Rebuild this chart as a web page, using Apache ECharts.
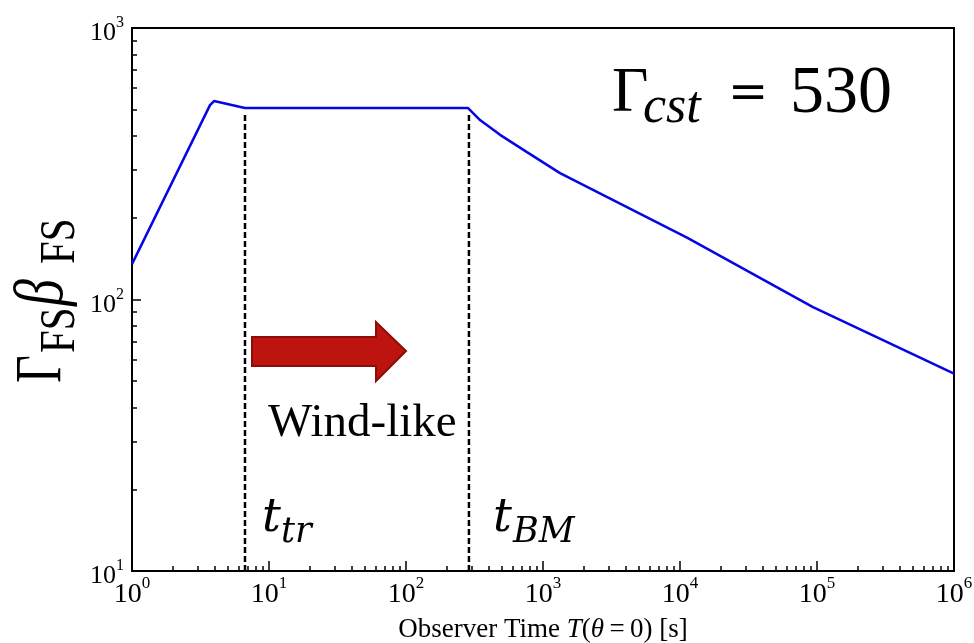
<!DOCTYPE html>
<html>
<head>
<meta charset="utf-8">
<script src="https://cdn.jsdelivr.net/npm/echarts@6/dist/echarts.min.js"></script>
<style>
  html, body { margin: 0; padding: 0; background: #fff; }
  #main { width: 974px; height: 643px; }
</style>
</head>
<body>
<div id="main"></div>
<script>
// observer time [s] and Gamma*beta of the forward shock
const obsTime = [1, 3.71, 3.97, 6.68, 284, 347, 486, 764, 1331, 4100, 11250, 93500, 1e6];
const gammaBeta = [135, 520, 538, 507, 507, 458, 404, 349, 292, 219, 169, 93.8, 53.3];

// t_tr and t_BM (dashed markers) and where the dashes stop at the top
const markerTimes = [6.68, 288];
const markerBottom = 10;
const markerTop = 490;

// major ticks (decades)
const xMajor = [1, 10, 100, 1000, 10000, 100000, 1000000];
const yMajor = [10, 100, 1000];

// minor ticks 2..9 inside every decade
function minorTicks(from, to) {
    const out = [];
    for (let d = from; d < to; d *= 10) {
        for (let k = 2; k <= 9; k++) out.push(k * d);
    }
    return out;
}
const xMinor = minorTicks(1, 1e6);
const yMinor = minorTicks(10, 1000);

const serif = '"Liberation Serif", "DejaVu Serif", serif';
const mathFont = '"DejaVu Serif", serif';

function powLabel(v) {
    return '{b|10}{s|' + Math.round(Math.log10(v)) + '}';
}

const chart = echarts.init(document.getElementById('main'));

const option = {
    animation: false,
    backgroundColor: '#fff',
    grid: {
        left: 132, right: 20, top: 28, bottom: 72,
        show: true, borderColor: '#000', borderWidth: 2,
        containLabel: false,
        outerBoundsMode: 'none'
    },
    xAxis: [{
        type: 'log', logBase: 10, min: 1, max: 1e6,
        position: 'bottom',
        name: 'Observer Time {it|T}({it|θ}\u2009=\u20090) [s]',
        nameLocation: 'middle', nameGap: 45,
        nameTextStyle: {
            fontFamily: serif, fontSize: 27, color: '#000',
            rich: { it: { fontFamily: serif, fontSize: 27, fontStyle: 'italic', color: '#000' } }
        },
        axisLine: { lineStyle: { color: '#000', width: 2 } },
        axisTick: { inside: true, length: 10, lineStyle: { color: '#000', width: 1.5 }, customValues: xMajor },
        axisLabel: {
            margin: 4, customValues: xMajor, formatter: powLabel, color: '#000',
            rich: {
                b: { fontFamily: serif, fontSize: 28, lineHeight: 28, padding: [12, 0, 0, 0], color: '#000' },
                s: { fontFamily: serif, fontSize: 17, lineHeight: 17, verticalAlign: 'top', color: '#000' }
            }
        },
        splitLine: { show: false }
    }, {
        type: 'log', logBase: 10, min: 1, max: 1e6,
        position: 'bottom',
        axisLine: { show: false },
        axisTick: { inside: true, length: 5, lineStyle: { color: '#000', width: 1.5 }, customValues: xMinor },
        axisLabel: { show: false },
        splitLine: { show: false }
    }],
    yAxis: [{
        type: 'log', logBase: 10, min: 10, max: 1000,
        position: 'left',
        axisLine: { lineStyle: { color: '#000', width: 2 } },
        axisTick: { inside: true, length: 9, lineStyle: { color: '#000', width: 1.5 }, customValues: yMajor },
        axisLabel: {
            margin: 8, customValues: yMajor, formatter: powLabel, color: '#000',
            rich: {
                b: { fontFamily: serif, fontSize: 26, lineHeight: 26, padding: [11, 0, 0, 0], color: '#000' },
                s: { fontFamily: serif, fontSize: 16, lineHeight: 16, verticalAlign: 'top', color: '#000' }
            }
        },
        splitLine: { show: false }
    }, {
        type: 'log', logBase: 10, min: 10, max: 1000,
        position: 'left',
        axisLine: { show: false },
        axisTick: { inside: true, length: 5, lineStyle: { color: '#000', width: 1.5 }, customValues: yMinor },
        axisLabel: { show: false },
        splitLine: { show: false }
    }],
    series: [
        ...markerTimes.map(t => ({
            type: 'line',
            xAxisIndex: 0, yAxisIndex: 0,
            data: [[t, markerBottom], [t, markerTop]],
            showSymbol: false, silent: true, z: 1,
            lineStyle: { color: '#000', width: 2.5, type: [6, 3] }
        })),
        {
            name: 'GammaBeta',
            type: 'line',
            xAxisIndex: 0, yAxisIndex: 0,
            data: obsTime.map((t, i) => [t, gammaBeta[i]]),
            showSymbol: false, smooth: false, z: 3,
            lineStyle: { color: '#0505e6', width: 2.5 }
        }
    ],
    graphic: [
        // red arrow
        {
            type: 'polygon', z: 10,
            shape: { points: [[252, 337], [376, 337], [376, 322], [406, 351], [376, 381], [376, 366], [252, 366]] },
            style: { fill: '#bd1410', stroke: '#8c0c08', lineWidth: 2 }
        },
        // Wind-like
        { type: 'text', x: 268, y: 424, z: 10,
          style: { text: 'Wind-like', font: '47px ' + serif, fill: '#000', align: 'left', verticalAlign: 'middle' } },
        // t_tr
        { type: 'text', x: 262, y: 519, z: 10,
          style: { text: 't', font: 'italic 47px ' + mathFont, fill: '#000', align: 'left', verticalAlign: 'middle' } },
        { type: 'text', x: 281, y: 533, z: 10,
          style: { text: 'tr', font: 'italic 35px ' + mathFont, fill: '#000', align: 'left', verticalAlign: 'middle' } },
        // t_BM
        { type: 'text', x: 493, y: 519, z: 10,
          style: { text: 't', font: 'italic 47px ' + mathFont, fill: '#000', align: 'left', verticalAlign: 'middle' } },
        { type: 'text', x: 513, y: 533, z: 10,
          style: { text: 'BM', font: 'italic 35px ' + mathFont, fill: '#000', align: 'left', verticalAlign: 'middle' } },
        // Gamma_cst = 530
        { type: 'text', x: 612, y: 94, z: 10,
          style: { text: 'Γ', font: '63px ' + serif, fill: '#000', align: 'left', verticalAlign: 'middle' } },
        { type: 'text', x: 643, y: 108, z: 10,
          style: { text: 'cst', font: 'italic 52px ' + serif, fill: '#000', align: 'left', verticalAlign: 'middle' } },
        { type: 'text', x: 728, y: 96, z: 10,
          style: { text: '=', font: '48px ' + mathFont, fill: '#000', align: 'left', verticalAlign: 'middle' } },
        { type: 'text', x: 790, y: 94, z: 10,
          style: { text: '530', font: '68px ' + serif, fill: '#000', align: 'left', verticalAlign: 'middle' } },
        // y axis title Γ_FS β_FS, rotated
        { type: 'text', x: 43, y: 383, rotation: Math.PI / 2, scaleY: 1.35, z: 10,
          style: { text: 'Γ', font: '48px ' + serif, fill: '#000', align: 'left', verticalAlign: 'middle' } },
        { type: 'text', x: 61, y: 353, rotation: Math.PI / 2, scaleY: 1.22, z: 10,
          style: { text: 'FS', font: '41px ' + serif, fill: '#000', align: 'left', verticalAlign: 'middle' } },
        { type: 'text', x: 44, y: 306, rotation: Math.PI / 2, scaleY: 1.3, z: 10,
          style: { text: 'β', font: 'italic 54px ' + serif, fill: '#000', align: 'left', verticalAlign: 'middle' } },
        { type: 'text', x: 61, y: 264, rotation: Math.PI / 2, scaleY: 1.22, z: 10,
          style: { text: 'FS', font: '41px ' + serif, fill: '#000', align: 'left', verticalAlign: 'middle' } }
    ]
};

chart.setOption(option);
window.addEventListener('resize', () => { chart.resize(); });
</script>
</body>
</html>
